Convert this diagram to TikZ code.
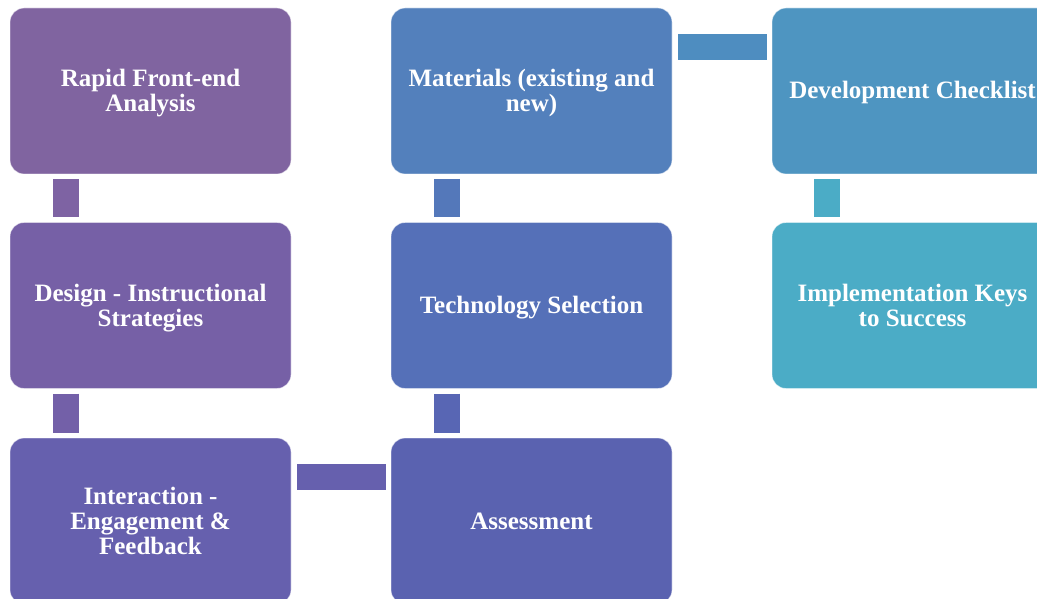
\documentclass[tikz,border=0pt]{standalone}
\usepackage{fontspec}
\setmainfont{Liberation Serif}
\usetikzlibrary{calc}

% step colours, from purple to teal
\definecolor{cRapid}{HTML}{8064A0}
\definecolor{cDesign}{HTML}{7660A6}
\definecolor{cInter}{HTML}{6660AE}
\definecolor{cAssess}{HTML}{5A62B0}
\definecolor{cTech}{HTML}{5570B8}
\definecolor{cMat}{HTML}{5380BC}
\definecolor{cDev}{HTML}{4E95C1}
\definecolor{cImpl}{HTML}{4BACC6}
% link colours
\definecolor{lA}{HTML}{7E63A3}
\definecolor{lB}{HTML}{7360A8}
\definecolor{lC}{HTML}{6660AE}
\definecolor{lD}{HTML}{5866B4}
\definecolor{lE}{HTML}{5478BA}
\definecolor{lF}{HTML}{4E8DC0}
\definecolor{lG}{HTML}{4BACC6}

% centred lines of a step, drawn a little low while keeping the box extents
\newcommand\steptext[1]{\raisebox{-3pt}[\height][\depth]{\begin{tabular}{@{}c@{}}#1\end{tabular}}}

\begin{document}
\begin{tikzpicture}[x=1pt,y=-1pt,
  stepbox/.style={rectangle, rounded corners=14pt, draw=white, draw opacity=0.55,
    line width=0.8pt, minimum width=281pt, minimum height=166pt, outer sep=0pt,
    inner sep=0pt, text=white,
    font=\bfseries\fontsize{25}{25}\selectfont},
  link/.style={line width=26pt}]
\useasboundingbox (0,0) rectangle (1037,599);

% steps
\node[stepbox, fill=cRapid]  (rapid)  at (150.5,91)    {\steptext{Rapid Front-end\\Analysis}};
\node[stepbox, fill=cDesign] (design) at (150.5,305.5) {\steptext{Design - Instructional\\Strategies}};
\node[stepbox, fill=cInter]  (inter)  at (150.5,521)   {\steptext{Interaction -\\Engagement \&\\Feedback}};
\node[stepbox, fill=cAssess] (assess) at (531.5,521)   {\steptext{Assessment}};
\node[stepbox, fill=cTech]   (tech)   at (531.5,305.5) {\steptext{Technology Selection}};
\node[stepbox, fill=cMat]    (mat)    at (531.5,91)    {\steptext{Materials (existing and\\new)}};
\node[stepbox, fill=cDev]    (dev)    at (912.5,91)    {\steptext{Development Checklist}};
\node[stepbox, fill=cImpl]   (impl)   at (912.5,305.5) {\steptext{Implementation Keys\\to Success}};

% links between steps
\draw[link, lA] ($(rapid.south west)+(56,5)$)  -- ($(design.north west)+(56,-5)$);
\draw[link, lB] ($(design.south west)+(56,5)$) -- ($(inter.north west)+(56,-5)$);
\draw[link, lC] ($(inter.north east)+(6,39)$)  -- ($(assess.north west)+(-5,39)$);
\draw[link, lD] ($(tech.south west)+(56,5)$)   -- ($(assess.north west)+(56,-5)$);
\draw[link, lE] ($(mat.south west)+(56,5)$)    -- ($(tech.north west)+(56,-5)$);
\draw[link, lF] ($(mat.north east)+(6,39)$)    -- ($(dev.north west)+(-5,39)$);
\draw[link, lG] ($(dev.south west)+(55,5)$)    -- ($(impl.north west)+(55,-5)$);
\end{tikzpicture}
\end{document}
